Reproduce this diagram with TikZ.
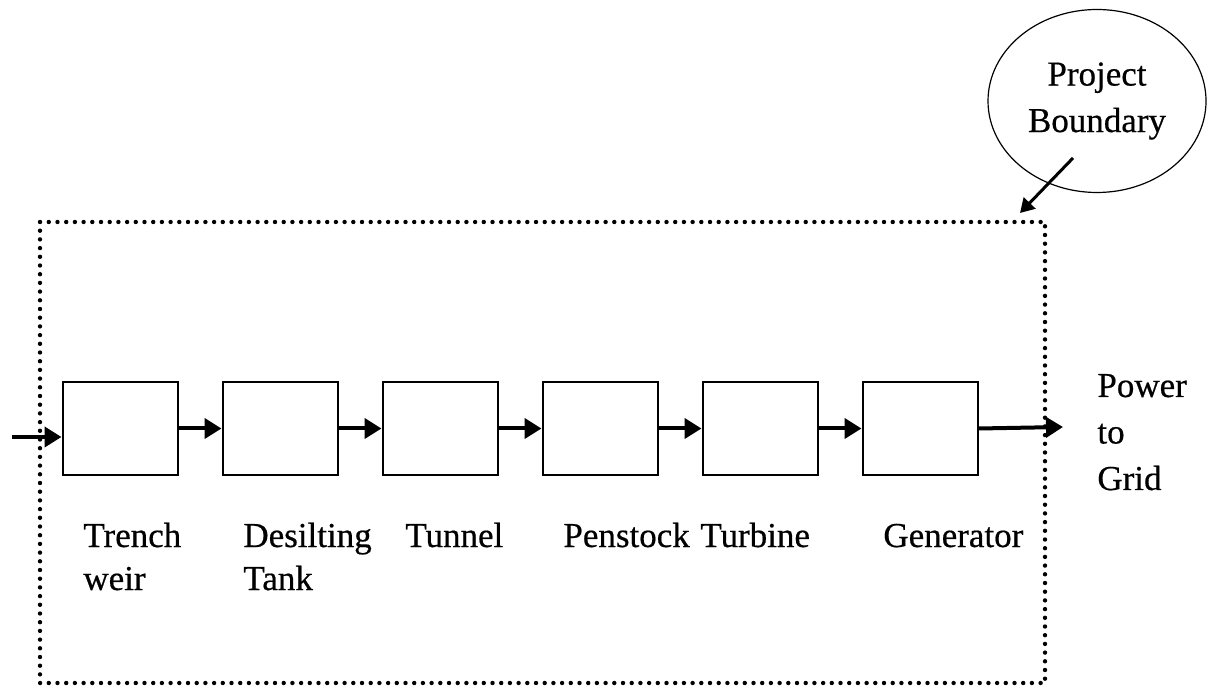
\documentclass[tikz,border=0pt]{standalone}
\usepackage{fontspec}
\setmainfont[FakeBold=0.5]{Liberation Serif}
\usepackage{tikz}
\usetikzlibrary{shapes.geometric, arrows.meta, positioning, calc}

\newcommand\lblfont{\fontsize{17.5pt}{21.5pt}\selectfont\lineskiplimit=-50pt\relax}
\newcommand\gridfont{\fontsize{17.5pt}{23.25pt}\selectfont\lineskiplimit=-50pt\relax}

\tikzset{
  stage/.style={draw, line width=1pt, minimum width=57.5pt, minimum height=46.5pt, inner sep=0pt},
  flow/.style={-{Triangle[length=8.5pt, width=10pt]}, line width=2pt},
  lbl/.style={font=\lblfont, inner sep=0pt, align=left},
  boundary/.style={line width=2.2pt, line cap=round, dash pattern=on 0pt off 4.35pt}
}

\begin{document}
\begin{tikzpicture}[x=0.5pt, y=-0.5pt]
  \useasboundingbox (0,0) rectangle (1208,688);

  % Project boundary (dotted)
  \draw[boundary] (40,222) rectangle (1045,683);

  % Stages of the plant
  \foreach \i in {0,...,5}
    \node[stage] (s\i) at (120+160*\i, 428.5) {};

  % Flow between stages
  \foreach \i [count=\j from 1] in {0,...,4}
    \draw[flow] (s\i.east) -- (s\j.west);

  % Water in, power out
  \coordinate (in) at (12,437);
  \coordinate (out) at (1063,427);
  \draw[flow] (in) -- (in -| s0.west);
  \draw[flow] (s5.east) -- (out);

  % Stage names (base = last line)
  \node[lbl, anchor=base west] (trench) at (83,590) {Trench\\weir};
  \node[lbl, anchor=base west] (desilt) at (243,590) {Desilting\\Tank};
  \node[lbl, anchor=base west] (tunnel) at (405,547) {Tunnel};
  \node[lbl, anchor=base west] (penstock) at (563,547) {Penstock};
  \node[lbl, anchor=base west] (turbine) at (700,547) {Turbine};
  \node[lbl, anchor=base west] (gen) at (883,547) {Generator};

  \node[lbl, anchor=base west, font=\gridfont] (grid) at (1097,490) {Power\\to\\Grid};

  % Callout
  \node[draw, ellipse, line width=0.6pt, minimum width=109pt, minimum height=91.5pt,
        lbl, font=\gridfont, align=center] (pb) at (1097,101) {Project\\Boundary};
  \coordinate (pbfoot) at (1073,158);
  \coordinate (corner) at (1020,213);
  \draw[-{Triangle[length=7pt, width=8pt]}, line width=1.5pt] (pbfoot) -- (corner);
\end{tikzpicture}
\end{document}
